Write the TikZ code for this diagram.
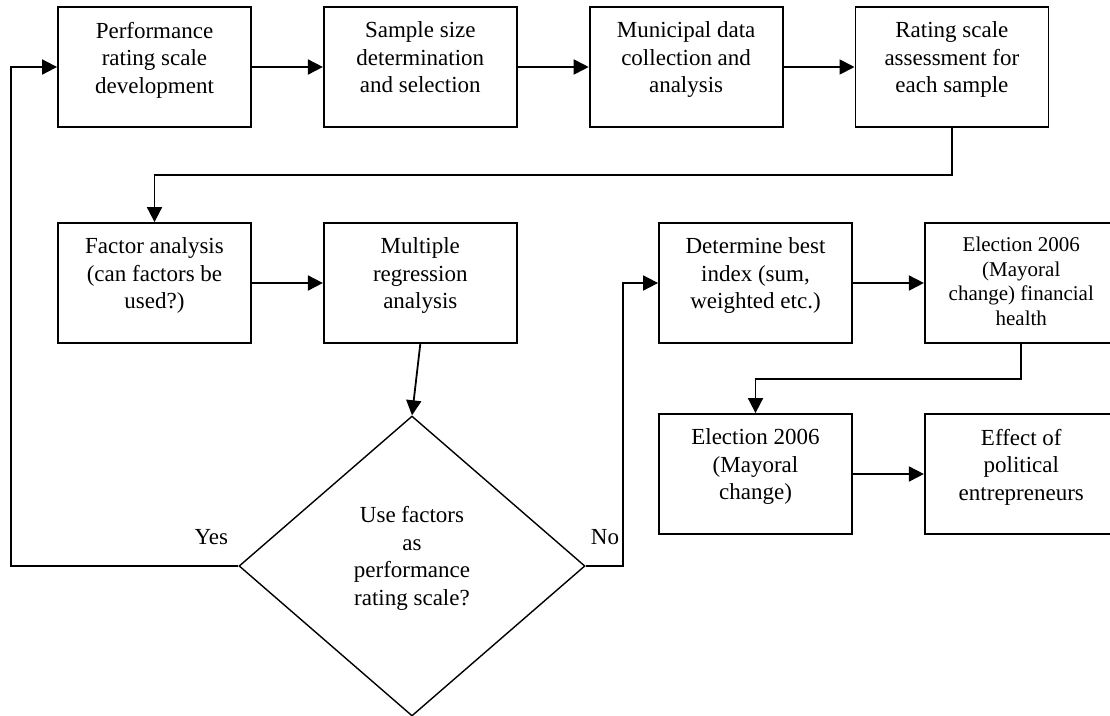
\documentclass[tikz,border=0pt]{standalone}
\usepackage{fontspec}
\setmainfont{Liberation Serif}
\usetikzlibrary{arrows.meta, positioning, shapes.geometric}

\begin{document}
\begin{tikzpicture}[
            > = {Triangle[length=15pt, width=15pt]}, % filled arrow head
            node distance = 71pt, % gap between boxes
            line width = 1.8pt, % line style
            font = \fontsize{23}{27.5}\selectfont
        ]

        \tikzstyle{block}=[
            draw = black,
            rectangle,
            align = center,
            minimum width = 193pt,
            minimum height = 120pt,
            text depth = 19pt,
            inner sep = 2pt
        ]
        \tikzstyle{decision}=[
            draw = black,
            diamond,
            line width = 1.4pt,
            align = center,
            minimum width = 346pt,
            minimum height = 300pt,
            text depth = 20pt,
            inner sep = 0pt
        ]

        \useasboundingbox (0,0) rectangle (1110pt,-715pt);

        % first row
        \node[block] (perf) at (154.5pt,-67pt) {Performance\\rating scale\\development};
        \node[block, right = of perf] (sample) {Sample size\\determination\\and selection};
        \node[block, right = of sample] (muni) {Municipal data\\collection and\\analysis};
        \node[block, right = of muni] (assess) {Rating scale\\assessment for\\each sample};

        % second row
        \node[block] (factor) at (154.5pt,-283pt) {Factor analysis\\(can factors be\\used?)};
        \node[block, right = of factor] (regr) {Multiple\\regression\\analysis};
        \node[block] (index) at (755.5pt,-283pt) {Determine best\\index (sum,\\weighted etc.)};
        \node[block, right = of index, text depth = 4pt,
              font = \fontsize{21}{24.5}\selectfont] (health) {Election 2006\\(Mayoral\\change) financial\\health};

        % third row
        \node[block] (mayor) at (755.5pt,-474pt) {Election 2006\\(Mayoral\\change)};
        \node[block, right = of mayor] (entre) {Effect of\\political\\entrepreneurs};

        \node[decision] (use) at (412pt,-566pt) {Use factors\\as\\performance\\rating scale?};
        \node[anchor = base east] (yes) at ([xshift=-6pt, yshift=22pt]use.west) {Yes};
        \node[anchor = base west] (no) at ([xshift=1pt, yshift=22pt]use.east) {No};

        \draw[->] (perf) -- (sample);
        \draw[->] (sample) -- (muni);
        \draw[->] (muni) -- (assess);
        \draw[->] (assess.south) -- ++(0,-47pt) -| (factor.north);
        \draw[->] (factor) -- (regr);
        \draw[->] (regr.south) -- (use.north);
        \draw[->] (use.west) -- ++(-227pt,0) |- (perf.west);
        \draw[->] (use.east) -- ++(37pt,0) |- (index.west);
        \draw[->] (index) -- (health);
        \draw[->] (health.south) -- ++(0,-35pt) -| (mayor.north);
        \draw[->] (mayor) -- (entre);
    \end{tikzpicture}
\end{document}
